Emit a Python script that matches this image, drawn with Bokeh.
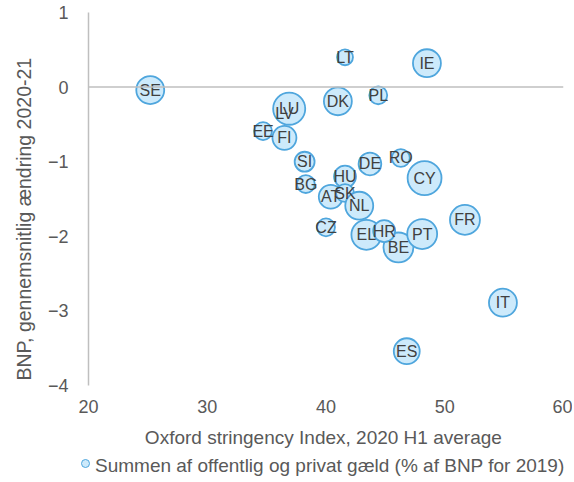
from bokeh.plotting import figure
from bokeh.models import Range1d, Span, ColumnDataSource, FixedTicker, Title, Div
from bokeh.layouts import column
from bokeh.core.properties import value
from bokeh.embed import file_html
from bokeh.resources import INLINE
import numpy as np

countries = ["SE", "LV", "LU", "EE", "FI", "SI", "BG", "CZ", "AT", "LT", "DK", "HU",
             "SK", "NL", "DE", "EL", "BE", "HR", "PL", "RO", "IE", "CY", "PT", "FR", "IT", "ES"]
stringency = [25.2, 36.5, 36.9, 34.7, 36.5, 38.2, 38.3, 40.0, 40.4, 41.6, 41.0, 41.6,
              41.6, 42.8, 43.7, 43.4, 46.1, 44.9, 44.4, 46.3, 48.5, 48.3, 48.1, 51.7, 54.9, 46.8]
gdp_change = [-0.04, -0.36, -0.29, -0.59, -0.68, -1.00, -1.30, -1.88, -1.47, 0.40, -0.19, -1.20,
              -1.42, -1.59, -1.03, -1.98, -2.15, -1.93, -0.11, -0.95, 0.32, -1.22, -1.97, -1.78, -2.89, -3.54]
debt = [258, 80, 340, 106, 190, 131, 106, 106, 189, 84, 258, 159,
        106, 258, 170, 296, 296, 159, 106, 106, 258, 380, 296, 296, 258, 222]

x_ticks = [20, 30, 40, 50, 60]
y_ticks = [-4, -3, -2, -1, 0, 1]
legend_label = "Summen af offentlig og privat gæld (% af BNP for 2019)"

sizes = [1.74 * np.sqrt(d) for d in debt]
src = ColumnDataSource(dict(x=stringency, y=gdp_change, label=countries, size=sizes))

FONT = "Liberation Sans"
GRAY = "#595959"
FILL = "#cdeafb"
EDGE = "#4fa6dd"

p = figure(width=572, height=452, output_backend="svg", toolbar_location=None,
           x_range=Range1d(20, 60), y_range=Range1d(-4, 1),
           min_border_left=88, min_border_right=9, min_border_top=12, min_border_bottom=67)
p.outline_line_color = None
p.xgrid.visible = False
p.ygrid.visible = False

p.xaxis.ticker = FixedTicker(ticks=x_ticks)
p.yaxis.ticker = FixedTicker(ticks=y_ticks)
for ax in (p.xaxis[0], p.yaxis[0]):
    ax.major_tick_line_color = None
    ax.minor_tick_line_color = None
    ax.major_tick_out = 0
    ax.major_tick_in = 0
    ax.major_label_text_font = FONT
    ax.major_label_text_font_size = "18px"
    ax.major_label_text_color = GRAY
    ax.axis_label_text_font = FONT
    ax.axis_label_text_font_size = "19px"
    ax.axis_label_text_font_style = "normal"
    ax.axis_label_text_color = GRAY
p.xaxis.axis_line_color = None
p.yaxis.axis_line_color = "#bfbfbf"
p.yaxis.axis_line_width = 1.5
p.xaxis.major_label_standoff = 14
p.yaxis.major_label_standoff = 20
p.xaxis.axis_label = "Oxford stringency Index, 2020  H1 average"
p.xaxis.axis_label_standoff = 11

ytitle = Title(text="BNP, gennemsnitlig ændring 2020-21", align="left", offset=5,
               text_font=FONT, text_font_size="19.5px", text_font_style="normal",
               text_color=GRAY, standoff=19)
p.add_layout(ytitle, "left")

p.add_layout(Span(location=0, dimension="width", line_color="#bfbfbf", line_width=1.5))

p.scatter("x", "y", size="size", source=src, fill_color=FILL,
          line_color=EDGE, line_width=1.8)
p.text("x", "y", text="label", source=src, text_align="center", text_baseline="middle",
       text_font=value(FONT), text_font_size="16px", text_color="#404040")

legend_html = (
    f'<div style="font-family:\'{FONT}\';font-size:19px;color:{GRAY};white-space:nowrap;'
    f'line-height:28px;height:28px;padding-left:81px;margin:0">'
    f'<span style="display:inline-block;box-sizing:border-box;width:9px;height:9px;'
    f'border:1.5px solid {EDGE};border-radius:50%;background:{FILL};vertical-align:middle;'
    f'margin-right:5px;position:relative;top:-3px"></span>{legend_label}</div>'
)
legend_div = Div(text=legend_html, width=572, height=28, margin=(0, 0, 0, 0))

open("out.html", "w").write(file_html(column(p, legend_div, spacing=0), INLINE))
